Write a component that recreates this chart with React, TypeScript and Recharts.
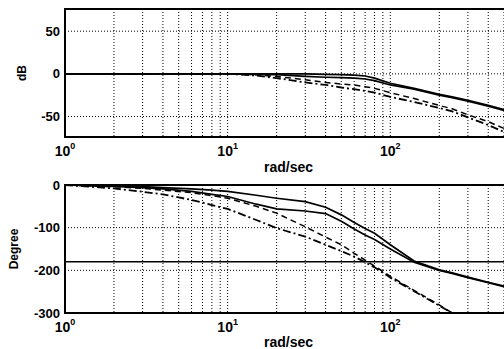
import { LineChart, Line, XAxis, YAxis, CartesianGrid, ReferenceArea, ReferenceLine } from "recharts"

// frequency points, rad/sec
const freq = [1, 2, 3, 4, 6, 8, 10, 15, 20, 30, 40, 50, 60, 70, 80, 100, 140, 200, 240, 300, 400, 500, 560]

// magnitude, dB
const magA = [0, 0, 0, 0, 0, 0, 0, 0, 0, 0, -0.5, -1, -1.5, -2.5, -5, -11, -17, -24, -27, -31, -37, -42, -44]
const magB = [0, 0, 0, 0, 0, 0, 0, -0.5, -1, -3, -4, -4.5, -5, -6, -8, -13, -18, -25, -28, -32, -38, -43, -45]
const magDash = [0, 0, 0, 0, 0, 0, 0, -1, -3, -7, -10, -12, -13, -15, -17, -22, -29, -37, -41, -48, -56, -64, -67]
const magDashDot = [0, 0, 0, 0, 0, 0, 0, -2, -5, -10, -13, -16, -18, -20, -22, -27, -33, -40, -44, -51, -60, -68, -72]

// phase, degree
const phaseA = [0, -2, -4, -6, -9, -12, -15, -24, -31, -39, -52, -70, -88, -102, -113, -140, -178, -199, -206, -216, -228, -237, -240]
const phaseB = [0, -3, -6, -9, -15, -22, -27, -45, -56, -61, -67, -85, -103, -117, -128, -150, -181, -200, -207, -217, -229, -238, -241]
const phaseDash = [0, -4, -8, -12, -18, -25, -31, -50, -66, -98, -122, -140, -160, -176, -190, -214, -247, -281, -300, null, null, null, null]
const phaseDashDot = [0, -8, -16, -22, -35, -47, -56, -82, -101, -121, -140, -155, -168, -181, -193, -217, -249, -283, -300, null, null, null, null]

const freqTicks = [1, 2, 3, 4, 5, 6, 7, 8, 9, 10, 20, 30, 40, 50, 60, 70, 80, 90, 100, 200, 300, 400, 500]
const magTicks = [-50, 0, 50]
const phaseTicks = [-300, -200, -100, 0]

const magData = freq.map((f, i) => ({ f, a: magA[i], b: magB[i], d: magDash[i], dd: magDashDot[i] }))
const phaseData = freq.map((f, i) => ({ f, a: phaseA[i], b: phaseB[i], d: phaseDash[i], dd: phaseDashDot[i] }))

const font = "'Liberation Sans', Arial, sans-serif"
const tickStyle = { fontSize: 13, fontWeight: 700, fill: "#000", fontFamily: font }

// only label the decades, as 10^n
const FreqTick = ({ x, y, payload }: any) => {
  const exp = Math.round(Math.log10(payload.value))
  if (Math.abs(Math.log10(payload.value) - exp) > 1e-9) return <g />
  return (
    <text x={x} y={y + 19} textAnchor="middle" fontSize={14} fontWeight={700} fontFamily={font} fill="#000">
      <tspan>10</tspan>
      <tspan dy={-7} fontSize={9}>{exp}</tspan>
    </text>
  )
}

const yTitle = (title: string, cx: number) => ({ viewBox }: any) => {
  const cy = viewBox.y + viewBox.height / 2
  return (
    <text x={cx} y={cy} transform={`rotate(-90 ${cx} ${cy})`} textAnchor="middle" dominantBaseline="central"
      fontSize={12} fontWeight={700} fontFamily={font} fill="#000">
      {title}
    </text>
  )
}

const xLabel = (offset: number) => ({
  value: "rad/sec", position: "insideBottom" as const, offset,
  fontSize: 14, fontWeight: 700, fontFamily: font, fill: "#000",
})

export default function App() {
  const lines = [
    <Line key="a" dataKey="a" stroke="#000" strokeWidth={1.7} dot={false} isAnimationActive={false} />,
    <Line key="b" dataKey="b" stroke="#000" strokeWidth={1.7} dot={false} isAnimationActive={false} />,
    <Line key="d" dataKey="d" stroke="#000" strokeWidth={1.5} strokeDasharray="6 4" dot={false} isAnimationActive={false} />,
    <Line key="dd" dataKey="dd" stroke="#000" strokeWidth={1.8} strokeDasharray="8 3 2 3" dot={false} isAnimationActive={false} />,
  ]
  return (
    <div style={{ position: "absolute", left: 0, top: 0, width: 504, height: 349, overflow: "hidden", background: "#fff" }}>
      <div style={{ position: "absolute", left: 0, top: 0 }}>
        <LineChart width={512} height={177} data={magData} margin={{ top: 9, right: 0, bottom: 0, left: 0 }}>
          <CartesianGrid stroke="#000" strokeDasharray="1 2" />
          <XAxis dataKey="f" type="number" scale="log" domain={[1, 560]} ticks={freqTicks} allowDataOverflow
            axisLine={false} tickLine={false} tickSize={0} tickMargin={0} height={40} interval={0}
            tick={<FreqTick />} label={xLabel(5)} />
          <YAxis type="number" domain={[-74, 76]} ticks={magTicks} allowDataOverflow width={65}
            axisLine={false} tickLine={false} tickSize={5} tickMargin={0} tick={tickStyle} label={yTitle("dB", 22)} />
          <ReferenceArea x1={1} x2={560} y1={-74} y2={76} fill="none" stroke="#000" strokeWidth={2} />
          {lines}
        </LineChart>
      </div>
      <div style={{ position: "absolute", left: 0, top: 170 }}>
        <LineChart width={512} height={179} data={phaseData} margin={{ top: 15, right: 0, bottom: 0, left: 0 }}>
          <CartesianGrid stroke="#000" strokeDasharray="1 2" />
          <XAxis dataKey="f" type="number" scale="log" domain={[1, 560]} ticks={freqTicks} allowDataOverflow
            axisLine={false} tickLine={false} tickSize={0} tickMargin={0} height={36} interval={0}
            tick={<FreqTick />} label={xLabel(2)} />
          <YAxis type="number" domain={[-300, 0]} ticks={phaseTicks} allowDataOverflow width={65}
            axisLine={false} tickLine={false} tickSize={5} tickMargin={0} tick={tickStyle} label={yTitle("Degree", 14)} />
          <ReferenceArea x1={1} x2={560} y1={-300} y2={0} fill="none" stroke="#000" strokeWidth={2} />
          <ReferenceLine y={-180} stroke="#000" strokeWidth={1.5} />
          {lines}
        </LineChart>
      </div>
    </div>
  )
}
